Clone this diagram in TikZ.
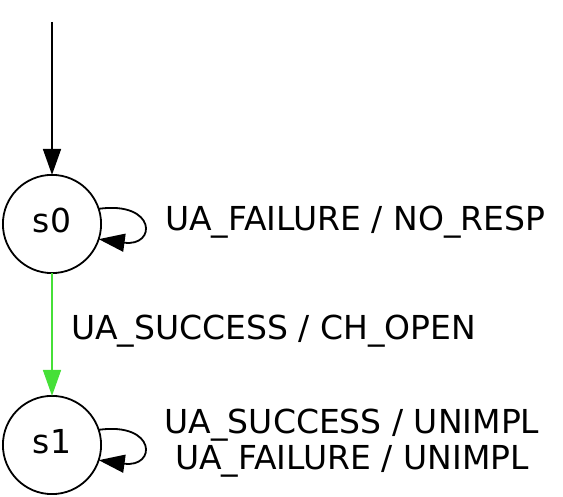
\documentclass[tikz,border=0pt]{standalone}
\usepackage{fontspec}
\setmainfont{DejaVu Sans}
\usetikzlibrary{arrows.meta, positioning}
\definecolor{okgreen}{RGB}{70,224,56}

\tikzset{
  statenode/.style={draw, circle, line width=1.8pt, minimum size=98.2pt, inner sep=0pt, outer sep=0pt,
    text depth=8pt, font=\fontsize{33}{35}\selectfont},
  trans/.style={line width=1.8pt, -{Triangle[length=26pt, width=18pt]}},
  translabel/.style={inner sep=0pt, align=center, font=\fontsize{33}{36}\selectfont}
}

\begin{document}
\begin{tikzpicture}[x=1pt, y=1pt]
  \useasboundingbox (0,0) rectangle (563,497);
  % states
  \node[statenode] (s0) at (52,273) {s0};
  \node[statenode, below=122.8pt of s0] (s1) {s1};
  \coordinate (init) at (52,475);
  % transitions
  \draw[trans] (init) -- (s0);
  \draw[trans, okgreen] (s0) -- (s1);
  \draw[trans] (s0.18) .. controls +(58,8) and +(58,-8) .. (s0.-18);
  \draw[trans] (s1.18) .. controls +(58,8) and +(58,-8) .. (s1.-18);
  % labels
  \node[translabel, anchor=base west] (lab00) at (165,266) {UA\_FAILURE / NO\_RESP};
  \node[translabel, anchor=base west] (lab01) at (71,157) {UA\_SUCCESS / CH\_OPEN};
  \node[translabel, anchor=base] (lab11) at (352,27) {UA\_SUCCESS / UNIMPL\\UA\_FAILURE / UNIMPL};
\end{tikzpicture}
\end{document}
